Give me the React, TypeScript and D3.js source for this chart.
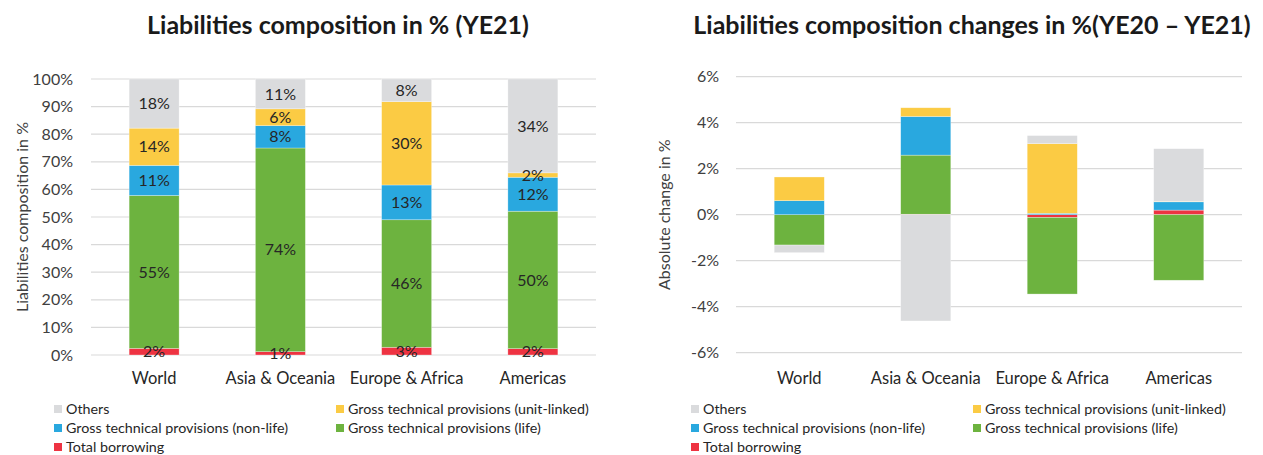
import React from "react";
import * as d3 from "d3";

const categories = ["World", "Asia & Oceania", "Europe & Africa", "Americas"];
const seriesKeys = ["borrowing", "life", "nonlife", "unit", "others"];
const seriesNames = [
  "Total borrowing",
  "Gross technical provisions (life)",
  "Gross technical provisions (non-life)",
  "Gross technical provisions (unit-linked)",
  "Others",
];
const seriesColors = ["#EE3342", "#6DB33F", "#29A8DF", "#FBCB44", "#DADBDD"];

// Liabilities composition in % (YE21)
const compBorrowing = [2.4, 1.2, 2.8, 2.3];
const compLife = [55.4, 73.8, 46.2, 49.8];
const compNonLife = [10.9, 8.1, 12.6, 12.3];
const compUnitLinked = [13.5, 6.1, 30.2, 1.6];
const compOthers = [17.8, 10.8, 8.2, 34.0];

// Liabilities composition changes in % (YE20 – YE21)
const chgBorrowing = [0.0, 0.02, -0.12, 0.2];
const chgLife = [-1.32, 2.57, -3.33, -2.85];
const chgNonLife = [0.61, 1.68, 0.06, 0.36];
const chgUnitLinked = [1.03, 0.38, 3.03, 0.02];
const chgOthers = [-0.33, -4.62, 0.35, 2.29];

const compTicks = [0, 10, 20, 30, 40, 50, 60, 70, 80, 90, 100];
const chgTicks = [-6, -4, -2, 0, 2, 4, 6];

// legend layout order (rows of two)
const legendOrder = [4, 3, 2, 1, 0];

const FONT = "Lato, 'Open Sans', sans-serif";

function buildRows(arrs: number[][]) {
  return categories.map((c, i) => {
    const row: any = { cat: c };
    seriesKeys.forEach((k, j) => (row[k] = arrs[j][i]));
    return row;
  });
}

type ChartProps = {
  title: string;
  titleX: number;
  yLabel: string;
  yLabelX: number;
  x0: number;
  x1: number;
  yTop: number;
  yBottom: number;
  domain: [number, number];
  ticks: number[];
  tickX: number;
  data: number[][];
  showLabels: boolean;
  legendX1: number;
  legendX2: number;
};

function Chart(p: ChartProps) {
  const rows = buildRows(p.data);
  const x = d3
    .scaleBand<string>()
    .domain(categories)
    .range([p.x0, p.x1])
    .paddingInner(0.604)
    .paddingOuter(0.302);
  const y = d3.scaleLinear().domain(p.domain).range([p.yBottom, p.yTop]);
  const stack = d3
    .stack<any>()
    .keys(seriesKeys)
    .order(d3.stackOrderNone)
    .offset(d3.stackOffsetDiverging);
  const series = stack(rows);

  const legendItems = legendOrder.map((si, idx) => ({
    si,
    x: idx % 2 === 0 ? p.legendX1 : p.legendX2,
    y: 409 + Math.floor(idx / 2) * 19,
  }));

  return (
    <g>
      <text
        x={p.titleX}
        y={34}
        textAnchor="middle"
        fontFamily={FONT}
        fontWeight={700}
        fontSize={25}
        fill="#1a1a1a"
      >
        {p.title}
      </text>
      {p.ticks.map((t) => (
        <g key={t}>
          <line
            x1={p.x0}
            x2={p.x1}
            y1={y(t)}
            y2={y(t)}
            stroke="#D9D9D9"
            strokeWidth={1.2}
          />
          <text
            x={p.tickX}
            y={y(t)}
            dy="0.35em"
            textAnchor="end"
            fontFamily={FONT}
            fontSize={16}
            fill="#404040"
          >
            {t + "%"}
          </text>
        </g>
      ))}
      <text
        transform={`translate(${p.yLabelX},${(p.yTop + p.yBottom) / 2}) rotate(-90)`}
        textAnchor="middle"
        dy="0.35em"
        fontFamily={FONT}
        fontSize={16}
        fill="#404040"
      >
        {p.yLabel}
      </text>
      {series.map((s, si) => (
        <g key={s.key} fill={seriesColors[si]}>
          {s.map((d, i) => {
            const top = y(Math.max(d[0], d[1]));
            const bot = y(Math.min(d[0], d[1]));
            return (
              <rect
                key={i}
                x={x(categories[i])}
                width={x.bandwidth()}
                y={top}
                height={Math.max(0, bot - top)}
                stroke="#ffffff"
                strokeOpacity={0.5}
                strokeWidth={0.6}
              />
            );
          })}
        </g>
      ))}
      {p.showLabels &&
        series.map((s, si) =>
          s.map((d, i) => (
            <text
              key={s.key + i}
              x={(x(categories[i]) as number) + x.bandwidth() / 2}
              y={y((d[0] + d[1]) / 2)}
              dy="0.35em"
              textAnchor="middle"
              fontFamily={FONT}
              fontSize={16}
              fill="#262626"
            >
              {Math.round(d[1] - d[0]) + "%"}
            </text>
          ))
        )}
      {categories.map((c) => (
        <text
          key={c}
          x={(x(c) as number) + x.bandwidth() / 2}
          y={384}
          textAnchor="middle"
          fontFamily={FONT}
          fontSize={16.5}
          fill="#262626"
        >
          {c}
        </text>
      ))}
      {legendItems.map((it) => (
        <g key={it.si}>
          <rect x={it.x} y={it.y - 4} width={8} height={8} fill={seriesColors[it.si]} />
          <text
            x={it.x + 12}
            y={it.y}
            dy="0.35em"
            fontFamily={FONT}
            fontSize={14.3}
            fill="#262626"
          >
            {seriesNames[it.si]}
          </text>
        </g>
      ))}
    </g>
  );
}

export default function App() {
  return (
    <svg
      width={1263}
      height={455}
      style={{ position: "absolute", left: 0, top: 0, background: "#fff" }}
    >
      <rect width={1263} height={455} fill="#fff" />
      <Chart
        title="Liabilities composition in % (YE21)"
        titleX={338}
        yLabel="Liabilities composition in %"
        yLabelX={22}
        x0={91}
        x1={596}
        yTop={79}
        yBottom={355}
        domain={[0, 100]}
        ticks={compTicks}
        tickX={73}
        data={[compBorrowing, compLife, compNonLife, compUnitLinked, compOthers]}
        showLabels={true}
        legendX1={54}
        legendX2={336}
      />
      <Chart
        title="Liabilities composition changes in %(YE20 – YE21)"
        titleX={972}
        yLabel="Absolute change in %"
        yLabelX={664}
        x0={736}
        x1={1242}
        yTop={76.7}
        yBottom={352.7}
        domain={[-6, 6]}
        ticks={chgTicks}
        tickX={719}
        data={[chgBorrowing, chgLife, chgNonLife, chgUnitLinked, chgOthers]}
        showLabels={false}
        legendX1={691}
        legendX2={973}
      />
    </svg>
  );
}
